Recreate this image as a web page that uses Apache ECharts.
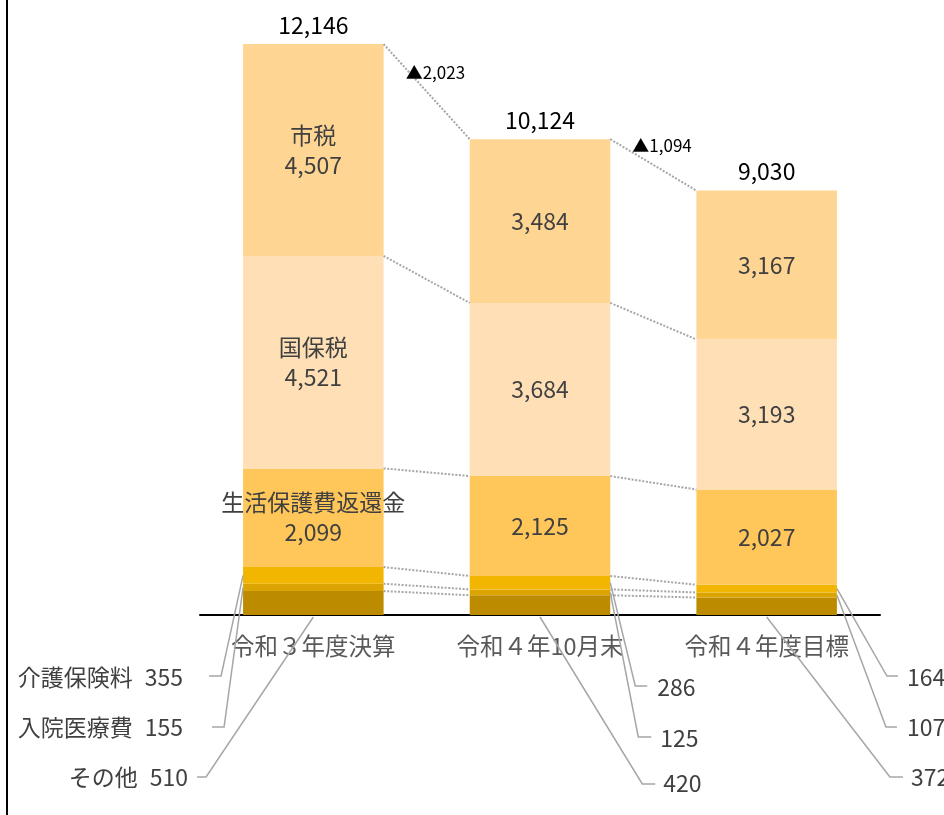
<!DOCTYPE html>
<html>
<head>
<meta charset="utf-8">
<script src="https://cdn.jsdelivr.net/npm/echarts@6/dist/echarts.min.js"></script>
<style>
  html, body { margin: 0; padding: 0; background: #fff; }
  #chart { width: 944px; height: 815px; }
</style>
</head>
<body>
<div id="chart"></div>
<script>
// Categories (fiscal periods)
const categories = ['令和３年度決算', '令和４年10月末', '令和４年度目標'];

// Segment names, bottom to top
const segmentNames = ['その他', '入院医療費', '介護保険料', '生活保護費返還金', '国保税', '市税'];

// Segment values per period
const otherVals    = [510, 420, 372];
const hospitalVals = [155, 125, 107];
const careVals     = [355, 286, 164];
const welfareVals  = [2099, 2125, 2027];
const nhiVals      = [4521, 3684, 3193];
const cityTaxVals  = [4507, 3484, 3167];

// Totals printed above each bar, and the decrease between neighbouring bars
const totals    = [12146, 10124, 9030];
const decreases = [2023, 1094];

const stackCols = [otherVals, hospitalVals, careVals, welfareVals, nhiVals, cityTaxVals];
const segColors = ['#BD8B00', '#DBA400', '#F2B600', '#FFC65A', '#FFE0B6', '#FFD593'];

const FONT = "'Liberation Sans Narrow', 'Arial Narrow', 'Noto Sans CJK JP', sans-serif";
const BAR_RATIO = 0.62;
const fmt = v => v.toLocaleString('en-US');

function cumulative(i, k) {
  let s = 0;
  for (let j = 0; j <= k; j++) s += stackCols[j][i];
  return s;
}

// Leader-label placement for the three small bottom segments.
// Offsets are measured outward from the bar's outer edge (side -1 = left, 1 = right)
// and downward from the baseline.
const leaderLayout = [
  { side: -1, showName: true, items: [
    { seg: 2, bend: [22, 61],  end: [34, 61],  text: [60, 62] },
    { seg: 1, bend: [19, 112], end: [31, 112], text: [60, 112] },
    { seg: 0, bend: [37, 162], end: [46, 162], text: [55, 162] }
  ]},
  { side: 1, showName: false, items: [
    { seg: 2, bend: [25, 71],  end: [37, 71],  text: [47, 72] },
    { seg: 1, bend: [28, 122], end: [41, 122], text: [50, 123] },
    { seg: 0, bend: [32, 169], end: [45, 169], text: [53, 168] }
  ]},
  { side: 1, showName: false, items: [
    { seg: 2, bend: [50, 61],  end: [61, 61],  text: [70, 62] },
    { seg: 1, bend: [49, 112], end: [60, 112], text: [70, 112] },
    { seg: 0, bend: [53, 162], end: [66, 162], text: [74, 162] }
  ]}
];

const barSeries = stackCols.map((vals, k) => ({
  name: segmentNames[k],
  type: 'bar',
  stack: 'total',
  barWidth: (BAR_RATIO * 100) + '%',
  data: vals,
  itemStyle: { color: segColors[k] },
  emphasis: { disabled: true },
  label: {
    show: k >= 3,
    position: 'inside',
    color: '#404040',
    fontSize: 23,
    lineHeight: 30,
    fontFamily: FONT,
    formatter: p => p.dataIndex === 0 ? segmentNames[k] + '\n' + fmt(p.value) : fmt(p.value)
  }
}));

const annotationSeries = {
  type: 'custom',
  silent: true,
  z: 5,
  clip: false,
  data: categories.map((c, i) => [i, totals[i]]),
  encode: { x: 0, y: 1 },
  renderItem: (params, api) => {
    const i = params.dataIndex;
    const children = [];
    const band = api.size([1, 0])[0];
    const half = band * BAR_RATIO / 2;
    const cx = api.coord([i, 0])[0];
    const base = api.coord([i, 0])[1];

    // Total above the bar
    const topY = api.coord([i, totals[i]])[1];
    children.push({
      type: 'text',
      style: { text: fmt(totals[i]), x: cx, y: topY - 19, align: 'center', verticalAlign: 'middle',
               fontSize: 23, fontFamily: FONT, fill: '#000' }
    });

    // Dotted connectors to the next bar
    if (i < categories.length - 1) {
      const nx = api.coord([i + 1, 0])[0];
      for (let k = 0; k < stackCols.length; k++) {
        const y1 = api.coord([i, cumulative(i, k)])[1];
        const y2 = api.coord([i + 1, cumulative(i + 1, k)])[1];
        children.push({
          type: 'line',
          shape: { x1: cx + half, y1: y1, x2: nx - half, y2: y2 },
          style: { stroke: '#A6A6A6', lineWidth: 2, lineDash: [2, 1.6] }
        });
        if (k === stackCols.length - 1) {
          const mx = (cx + half + nx - half) / 2;
          const my = (y1 + y2) / 2;
          children.push({
            type: 'text',
            style: { text: '▲' + fmt(decreases[i]), x: mx - 21, y: my - 19, align: 'left',
                     verticalAlign: 'middle', fontSize: 17, fontFamily: FONT, fill: '#000' }
          });
        }
      }
    }

    // Leader lines and labels for the bottom segments
    const lay = leaderLayout[i];
    const edge = cx + lay.side * half;
    lay.items.forEach(it => {
      const k = it.seg;
      let ax, ay;
      if (k === 0) {
        ax = cx; ay = base + 2;
      } else {
        ax = edge;
        ay = (api.coord([i, cumulative(i, k)])[1] + api.coord([i, cumulative(i, k - 1)])[1]) / 2;
      }
      children.push({
        type: 'polyline',
        shape: { points: [
          [ax, ay],
          [edge + lay.side * it.bend[0], base + it.bend[1]],
          [edge + lay.side * it.end[0], base + it.end[1]]
        ]},
        style: { stroke: '#A6A6A6', lineWidth: 1.5, fill: null }
      });
      const v = stackCols[k][i];
      children.push({
        type: 'text',
        style: {
          text: lay.showName ? '{n|' + segmentNames[k] + '}{v|' + fmt(v) + '}' : fmt(v),
          rich: {
            n: { fontSize: 23, fontFamily: FONT, fill: '#404040', padding: [0, 12, 0, 0] },
            v: { fontSize: 23, fontFamily: FONT, fill: '#404040' }
          },
          x: edge + lay.side * it.text[0], y: base + it.text[1],
          align: lay.side < 0 ? 'right' : 'left', verticalAlign: 'middle',
          fontSize: 23, fontFamily: FONT, fill: '#404040'
        }
      });
    });

    return { type: 'group', children: children };
  }
};

const chart = echarts.init(document.getElementById('chart'));
chart.setOption({
  animation: false,
  backgroundColor: '#fff',
  grid: { left: 200, right: 64, top: 4, bottom: 200 },
  xAxis: {
    type: 'category',
    data: categories,
    axisTick: { show: false },
    axisLine: { lineStyle: { color: '#000', width: 2 } },
    axisLabel: { color: '#595959', fontSize: 23.5, fontFamily: FONT, margin: 19 }
  },
  yAxis: { type: 'value', min: 0, max: 13000, show: false, splitLine: { show: false } },
  graphic: [{
    type: 'line', silent: true,
    shape: { x1: 7, y1: 0, x2: 7, y2: 815 },
    style: { stroke: '#000', lineWidth: 2 }
  }],
  series: barSeries.concat([annotationSeries])
});
</script>
</body>
</html>
